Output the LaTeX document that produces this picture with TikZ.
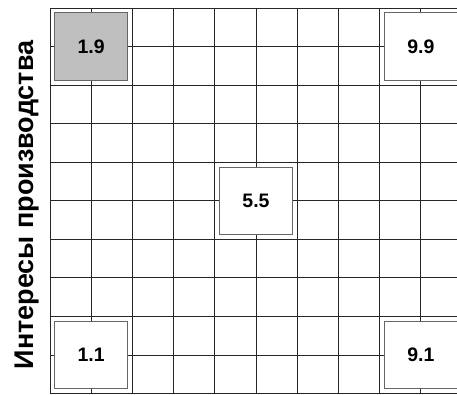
\documentclass[tikz,border=0pt]{standalone}
\usepackage{fontspec}
\setmainfont{Liberation Sans}
\usepackage{tikz}

\begin{document}
\begin{tikzpicture}[x=1pt,y=1pt,
  grid/.style={black!85,line width=0.9pt},
  cell/.style={draw=black!60,line width=0.8pt,fill=white,minimum width=72.7pt,minimum height=67.7pt,inner sep=0pt,font=\fontsize{19.5}{22}\selectfont\bfseries},
  hot/.style={cell,fill=gray!50},
  lab/.style={font=\fontsize{27}{30}\selectfont\bfseries,inner sep=0pt}]
\useasboundingbox (0,0) rectangle (457,394);
% grid
\foreach \i in {0,...,9}
  \draw[grid] (50+41.2*\i,386) -- (50+41.2*\i,0.5);
\foreach \j in {0,...,10}
  \draw[grid] (50,386-38.55*\j) -- (457,386-38.55*\j);
% boxes on the crossings
\node[hot] (b19) at (91.2,347.45) {1.9};
\node[cell] (b99) at (420.8,347.45) {9.9};
\node[cell] (b55) at (256,193.25) {5.5};
\node[cell] (b11) at (91.2,39.05) {1.1};
\node[cell] (b91) at (420.8,39.05) {9.1};
% side title
\node[lab,rotate=90,anchor=base] (side) at (33,189) {Интересы производства};
\end{tikzpicture}
\end{document}
